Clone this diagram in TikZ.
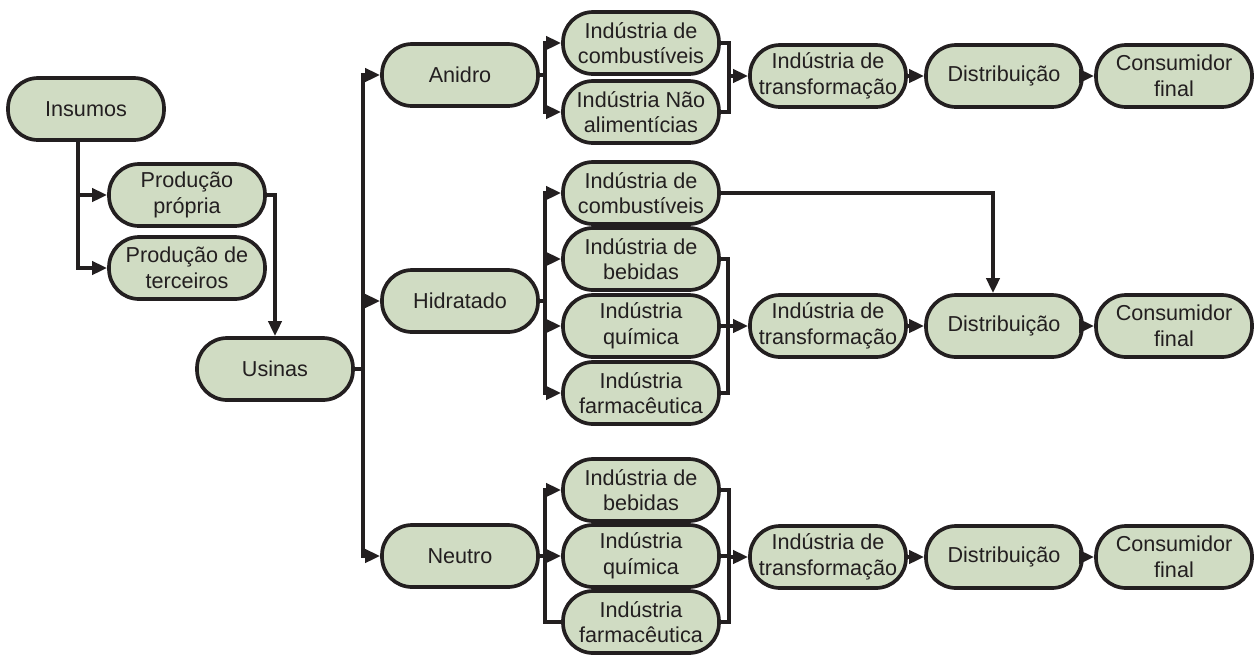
\documentclass[tikz,border=0pt]{standalone}
\usepackage{fontspec}
\setmainfont{Liberation Sans}
\usepackage{tikz}
\usetikzlibrary{arrows.meta,positioning,calc}
\definecolor{cFill}{HTML}{D0DCC3}
\definecolor{cLine}{HTML}{231F20}
\definecolor{cText}{HTML}{231F20}
\tikzset{
  stage/.style={rectangle,rounded corners=0.6cm,draw=cLine,line width=2.1pt,
                fill=cFill,minimum width=3.12cm,minimum height=1.24cm,
                inner sep=1pt,align=center,text=cText,
                font=\fontsize{12.3}{14.5}\selectfont},
  wire/.style={draw=cLine,line width=2.1pt},
  flow/.style={wire,-{Triangle[length=3mm,width=2.6mm]}},
}

\begin{document}
\begin{tikzpicture}[x=0.02cm,y=-0.02cm]
  \useasboundingbox (0,0) rectangle (1259,654);
  % left part
  \node[stage] (ins) at (86,109) {Insumos};
  \node[stage] (prop) at (187,195) {Produção\\própria};
  \node[stage] (terc) at (187,268) {Produção de\\terceiros};
  \node[stage] (usi) at (275,369) {Usinas};
  \draw[flow] ([xshift=-0.16cm]ins.south) |- (prop);
  \draw[flow] ([xshift=-0.16cm]ins.south) |- (terc);
  \draw[flow] (prop) -| (usi);
  % kinds of alcohol
  \node[stage] (anidro) at (460,75) {Anidro};
  \node[stage] (hidr) at (460,301) {Hidratado};
  \node[stage] (neut) at (460,556) {Neutro};
  \coordinate (tU) at (363,369);
  \draw[wire] (usi) -- (tU);
  \foreach \k in {anidro,hidr,neut}{\draw[flow] (tU) |- (\k);}
  % anidro
  \node[stage] (a1) at (641,43) {Indústria de\\combustíveis};
  \node[stage] (a2) at (641,112) {Indústria Não\\alimentícias};
  \coordinate (fa) at (545,75);
  \coordinate (ma) at (729,76);
  \draw[wire] (anidro) -- (fa);
  \foreach \k in {a1,a2}{\draw[flow] (fa) |- (\k); \draw[wire] (\k) -| (ma);}
  \node[stage] (ta) at (828,76) {Indústria de\\transformação};
  \node[stage] (da) at (1004,76) {Distribuição};
  \node[stage] (ca) at (1174,76) {Consumidor\\final};
  \draw[flow] (ma) -- (ta);
  \draw[flow] (ta) -- (da);
  \draw[flow] (da) -- (ca);
  % hidratado
  \node[stage] (h1) at (641,193) {Indústria de\\combustíveis};
  \node[stage] (h2) at (641,259) {Indústria de\\bebidas};
  \node[stage] (h3) at (641,326) {Indústria\\química};
  \node[stage] (h4) at (641,393) {Indústria\\farmacêutica};
  \coordinate (fh) at (545,301);
  \coordinate (mh) at (728,326);
  \draw[wire] (hidr) -- (fh);
  \foreach \k in {h1,h2,h3,h4}{\draw[flow] (fh) |- (\k);}
  \foreach \k in {h2,h3,h4}{\draw[wire] (\k) -| (mh);}
  \node[stage] (th) at (828,326) {Indústria de\\transformação};
  \node[stage] (dh) at (1004,326) {Distribuição};
  \node[stage] (ch) at (1174,326) {Consumidor\\final};
  \draw[flow] (mh) -- (th);
  \draw[flow] (th) -- (dh);
  \draw[flow] (dh) -- (ch);
  \draw[flow] (h1) -| ([xshift=-0.22cm]dh.north);
  % neutro
  \node[stage] (n1) at (641,490) {Indústria de\\bebidas};
  \node[stage] (n2) at (641,556) {Indústria\\química};
  \node[stage] (n3) at (641,622) {Indústria\\farmacêutica};
  \coordinate (fn) at (545,556);
  \coordinate (mn) at (729,557);
  \draw[wire] (neut) -- (fn);
  \draw[flow] (fn) |- (n1);
  \draw[flow] (fn) |- (n2);
  \draw[wire] (fn) |- (n3);
  \foreach \k in {n1,n2,n3}{\draw[wire] (\k) -| (mn);}
  \node[stage] (tn) at (828,557) {Indústria de\\transformação};
  \node[stage] (dn) at (1004,557) {Distribuição};
  \node[stage] (cn) at (1174,557) {Consumidor\\final};
  \draw[flow] (mn) -- (tn);
  \draw[flow] (tn) -- (dn);
  \draw[flow] (dn) -- (cn);
\end{tikzpicture}
\end{document}
